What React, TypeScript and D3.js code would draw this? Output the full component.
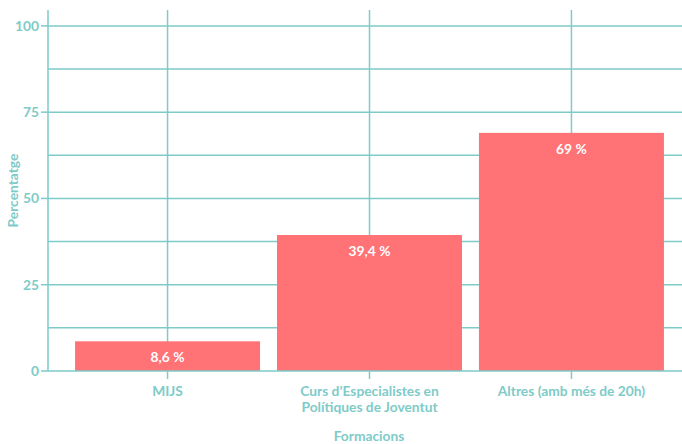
import React from 'react';
import * as d3 from 'd3';

const categories = ['MIJS', "Curs d’Especialistes en Polítiques de Joventut", 'Altres (amb més de 20h)'];
const categoryLines = [['MIJS'], ['Curs d’Especialistes en', 'Polítiques de Joventut'], ['Altres (amb més de 20h)']];
const values = [8.6, 39.4, 69];
const valueLabels = ['8,6 %', '39,4 %', '69 %'];
const yTicks = [0, 25, 50, 75, 100];
const yGrid = [12.5, 25, 37.5, 50, 62.5, 75, 87.5, 100];

const W = 682;
const H = 444;
const TEAL = '#7ecbc8';
const BAR = '#ff7275';
const FONT = 'Lato, "Open Sans", sans-serif';
const FS = 13.8;

export default function App() {
  const ref = React.useRef<SVGSVGElement>(null);

  React.useEffect(() => {
    if (!ref.current) return;
    const svg = d3.select(ref.current);
    svg.selectAll('*').remove();

    const x = d3.scaleBand<string>()
      .domain(categories)
      .range([48, 691])
      .paddingInner(0.084)
      .paddingOuter(0.134);
    const y = d3.scaleLinear().domain([0, 104.6]).range([371, 10]);

    const g = svg.append('g').style('font-family', FONT);

    // grid
    g.append('g').selectAll('line').data(yGrid).join('line')
      .attr('x1', 48).attr('x2', W)
      .attr('y1', d => y(d)).attr('y2', d => y(d))
      .attr('stroke', TEAL).attr('stroke-width', 1.5);
    g.append('g').selectAll('line').data(categories).join('line')
      .attr('x1', d => x(d)! + x.bandwidth() / 2).attr('x2', d => x(d)! + x.bandwidth() / 2)
      .attr('y1', y(104.6)).attr('y2', y(0))
      .attr('stroke', TEAL).attr('stroke-width', 1.5);

    // bars
    g.append('g').selectAll('rect').data(values).join('rect')
      .attr('x', (_, i) => x(categories[i])!)
      .attr('width', x.bandwidth())
      .attr('y', d => y(d))
      .attr('height', d => y(0) - y(d))
      .attr('fill', BAR);

    g.append('g').selectAll('text').data(values).join('text')
      .attr('x', (_, i) => x(categories[i])! + x.bandwidth() / 2)
      .attr('y', d => y(d) + 16)
      .attr('dy', '0.35em')
      .attr('text-anchor', 'middle')
      .attr('fill', '#fff')
      .attr('font-size', FS)
      .attr('font-weight', 700)
      .text((_, i) => valueLabels[i]);

    // axes
    g.append('line').attr('x1', 48).attr('x2', 48).attr('y1', y(104.6)).attr('y2', y(0))
      .attr('stroke', TEAL).attr('stroke-width', 1.5);
    g.append('line').attr('x1', 48).attr('x2', W).attr('y1', y(0)).attr('y2', y(0))
      .attr('stroke', TEAL).attr('stroke-width', 1.5);

    const yt = g.append('g').selectAll('g').data(yTicks).join('g');
    yt.append('line').attr('x1', 41).attr('x2', 48).attr('y1', d => y(d)).attr('y2', d => y(d))
      .attr('stroke', TEAL).attr('stroke-width', 1.5);
    yt.append('text')
      .attr('x', 39).attr('y', d => y(d)).attr('dy', '0.35em')
      .attr('text-anchor', 'end').attr('fill', TEAL)
      .attr('font-size', FS).attr('font-weight', 700)
      .text(d => String(d));

    const xt = g.append('g').selectAll('g').data(categories).join('g')
      .attr('transform', d => `translate(${x(d)! + x.bandwidth() / 2},0)`);
    xt.append('line').attr('y1', y(0)).attr('y2', y(0) + 8)
      .attr('stroke', TEAL).attr('stroke-width', 1.5);
    xt.append('text')
      .attr('text-anchor', 'middle').attr('fill', TEAL)
      .attr('font-size', FS).attr('font-weight', 700)
      .selectAll('tspan').data((_, i) => categoryLines[i]).join('tspan')
      .attr('x', 0).attr('y', (_, j) => 396 + j * 16)
      .text(d => d);

    g.append('text')
      .attr('transform', `translate(18,${y(52.3)}) rotate(-90)`)
      .attr('text-anchor', 'middle').attr('fill', TEAL)
      .attr('font-size', FS).attr('font-weight', 700)
      .text('Percentatge');

    g.append('text')
      .attr('x', 369).attr('y', 441)
      .attr('text-anchor', 'middle').attr('fill', TEAL)
      .attr('font-size', FS).attr('font-weight', 700)
      .text('Formacions');
  }, []);

  return (
    <svg ref={ref} width={W} height={H}
      style={{ position: 'absolute', left: 0, top: 0, background: '#fff' }} />
  );
}
